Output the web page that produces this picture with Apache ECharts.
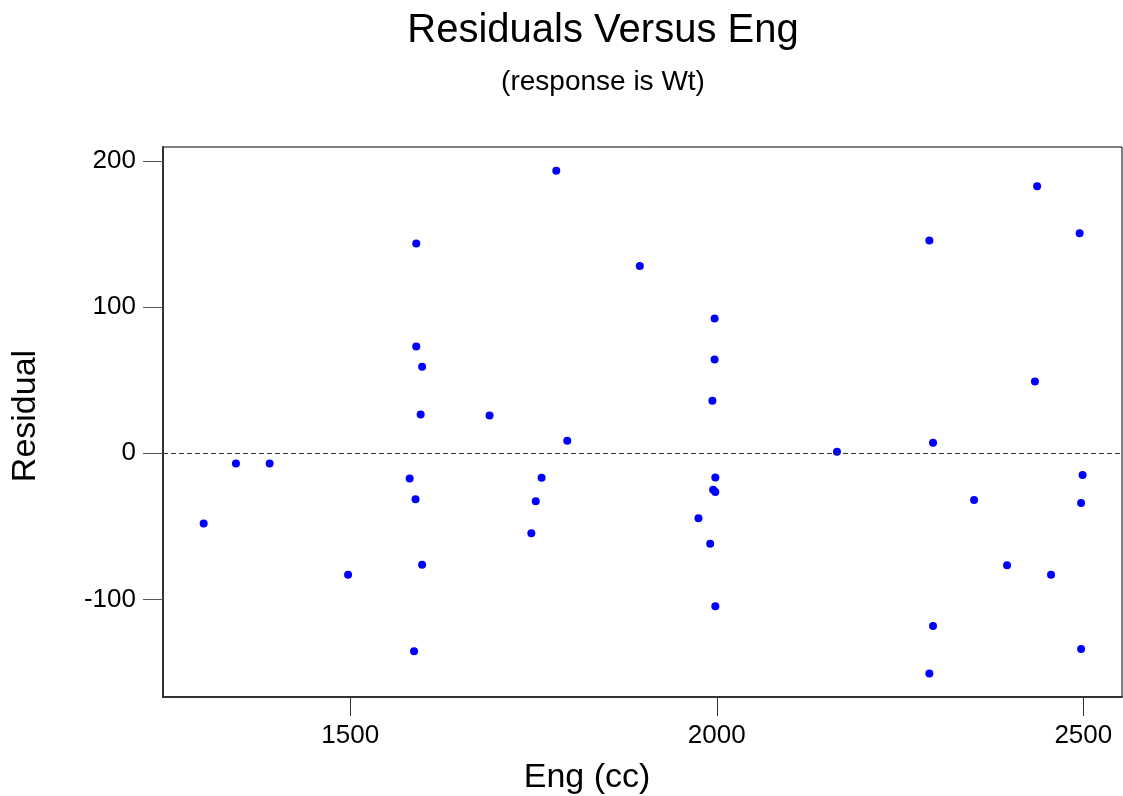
<!DOCTYPE html>
<html>
<head>
<meta charset="utf-8">
<title>Residuals Versus Eng</title>
<script src="https://cdn.jsdelivr.net/npm/echarts@6/dist/echarts.min.js"></script>
<style>
html, body { margin: 0; padding: 0; background: #fff; }
#chart { width: 1123px; height: 796px; }
</style>
</head>
<body>
<div id="chart"></div>
<script>
// engine size (cc) and residual
var engCc = [
  1590, 1590, 1598, 1596,
  1344, 1390, 1581, 1589, 1300, 1598, 1497, 1587,
  1781, 1895, 1997, 1997, 1994, 1690,
  1796, 1761, 1753, 1747, 1998, 1995, 1998, 1975, 1991, 1998,
  2437, 2495, 2290, 2434,
  2164, 2295, 2499, 2351, 2497, 2396, 2456, 2295, 2497, 2290
]
var residual = [
  143.4, 73.1, 59.2, 26.5,
  -6.9, -6.9, -17.2, -31.4, -48, -76.2, -83, -135.4,
  193.2, 128, 92.1, 64.2, 35.9, 25.8,
  8.6, -16.7, -32.7, -54.7, -16.5, -25, -26.5, -44.4, -61.8, -104.5,
  182.5, 150.5, 145.5, 49.1,
  1.1, 7.3, -14.9, -32, -33.9, -76.6, -83, -118, -133.8, -150.5
]
var xTicks = [1500, 2000, 2500]
var yTicks = [-100, 0, 100, 200]

var fontFam = '"Liberation Sans", Arial, Helvetica, sans-serif'

var points = []
for (var i = 0; i < engCc.length; i++) {
  points.push([engCc[i], residual[i]])
}

var chart = echarts.init(document.getElementById('chart'))
var option = {
  animation: false,
  backgroundColor: '#fff',
  title: [
    {
      text: 'Residuals Versus Eng',
      left: 603,
      top: 11,
      textAlign: 'center',
      padding: 0,
      textStyle: { fontSize: 40, fontWeight: 'normal', color: '#000', fontFamily: fontFam }
    },
    {
      text: '(response is Wt)',
      left: 603,
      top: 68,
      textAlign: 'center',
      padding: 0,
      textStyle: { fontSize: 28, fontWeight: 'normal', color: '#000', fontFamily: fontFam }
    }
  ],
  grid: {
    left: 163,
    top: 147,
    right: 1,
    bottom: 99,
    show: true,
    borderColor: '#000',
    borderWidth: 1,
    containLabel: false
  },
  xAxis: {
    type: 'value',
    min: 1244.5,
    max: 2552.8,
    splitLine: { show: false },
    axisLine: { show: true, onZero: false, lineStyle: { color: '#333', width: 2 } },
    axisTick: {
      show: true,
      inside: false,
      length: 19,
      customValues: xTicks,
      lineStyle: { color: '#333', width: 1 }
    },
    axisLabel: {
      customValues: xTicks,
      formatter: function (v) { return String(v) },
      margin: 26,
      color: '#000',
      fontSize: 26,
      fontFamily: fontFam
    }
  },
  yAxis: {
    type: 'value',
    min: -166.6,
    max: 209.4,
    splitLine: { show: false },
    axisLine: { show: true, onZero: false, lineStyle: { color: '#333', width: 2 } },
    axisTick: {
      show: true,
      inside: false,
      length: 20,
      customValues: yTicks,
      lineStyle: { color: '#555', width: 1 }
    },
    axisLabel: {
      customValues: yTicks,
      formatter: function (v) { return String(v) },
      margin: 27,
      color: '#000',
      fontSize: 26,
      fontFamily: fontFam
    }
  },
  graphic: [
    {
      type: 'text',
      x: 587,
      y: 778,
      style: {
        text: 'Eng (cc)',
        font: '34px ' + fontFam,
        fill: '#000',
        align: 'center',
        verticalAlign: 'middle',
        textAlign: 'center',
        textVerticalAlign: 'middle'
      }
    },
    {
      type: 'text',
      x: 26,
      y: 416,
      rotation: Math.PI / 2,
      style: {
        text: 'Residual',
        font: '34px ' + fontFam,
        fill: '#000',
        align: 'center',
        verticalAlign: 'middle',
        textAlign: 'center',
        textVerticalAlign: 'middle'
      }
    }
  ],
  series: [
    {
      type: 'scatter',
      data: points,
      symbol: 'circle',
      symbolSize: 8,
      itemStyle: { color: '#0000ff', opacity: 1 },
      markLine: {
        silent: true,
        symbol: ['none', 'none'],
        label: { show: false },
        lineStyle: { color: '#333', width: 1, type: [5, 3] },
        data: [{ yAxis: 0 }]
      }
    }
  ]
}
chart.setOption(option)
</script>
</body>
</html>
